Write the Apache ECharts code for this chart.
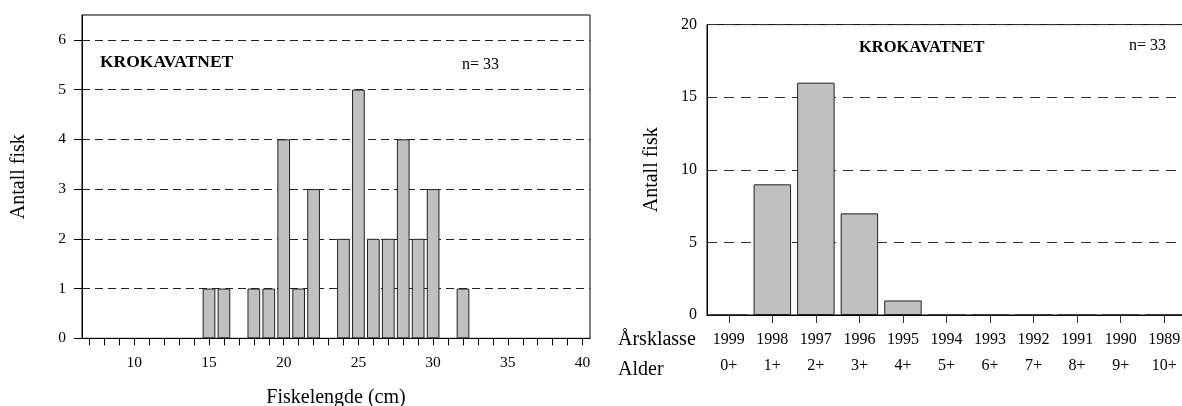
<!DOCTYPE html>
<html>
<head>
<meta charset="utf-8">
<script src="https://cdn.jsdelivr.net/npm/echarts@6/dist/echarts.min.js"></script>
<style>
html,body{margin:0;padding:0;background:#fff;}
#chart{width:1182px;height:406px;}
</style>
</head>
<body>
<div id="chart"></div>
<script>
// ---- Left chart: length distribution ----
const lengthAxisMin = 7;
const lengthAxisMax = 40;
const fishLengths = [15, 16, 18, 19, 20, 21, 22, 24, 25, 26, 27, 28, 29, 30, 32];
const fishCounts  = [1, 1, 1, 1, 4, 1, 3, 2, 5, 2, 2, 4, 2, 3, 1];
const lengthYTicks = [0, 1, 2, 3, 4, 5, 6];

// ---- Right chart: year classes / age ----
const yearClasses = ['1999', '1998', '1997', '1996', '1995', '1994', '1993', '1992', '1991', '1990', '1989'];
const ages        = ['0+', '1+', '2+', '3+', '4+', '5+', '6+', '7+', '8+', '9+', '10+'];
const ageCounts   = [0, 9, 16, 7, 1, 0, 0, 0, 0, 0, 0];

const lakeName = 'KROKAVATNET';
const nLabel = 'n= 33';

const lengthCategories = [];
for (let l = lengthAxisMin; l <= lengthAxisMax; l++) lengthCategories.push(String(l));
const lengthData = fishLengths.map((l, i) => [String(l), fishCounts[i]]);

const SERIF = '"Liberation Serif", "Times New Roman", serif';

const chart = echarts.init(document.getElementById('chart'), null, {renderer: 'canvas'});
const option = {
  backgroundColor: '#fff',
  animation: false,
  textStyle: {fontFamily: SERIF, color: '#000'},
  grid: [
    {left: 82, top: 15, width: 508, height: 323.3, show: true, borderColor: '#000', borderWidth: 1, backgroundColor: 'transparent', containLabel: false, outerBoundsMode: 'none'},
    {left: 707, top: 24.6, width: 479, height: 290.4, show: true, borderColor: '#000', borderWidth: 1, backgroundColor: 'transparent', containLabel: false, outerBoundsMode: 'none'}
  ],
  xAxis: [
    {
      gridIndex: 0, type: 'category', data: lengthCategories, boundaryGap: true,
      name: 'Fiskelengde (cm)', nameLocation: 'middle', nameGap: 49,
      nameTextStyle: {fontFamily: SERIF, fontSize: 20, color: '#000'},
      axisLine: {show: true, lineStyle: {color: '#000', width: 1}},
      axisTick: {show: true, alignWithLabel: true, interval: 0, length: 7, lineStyle: {color: '#000'}},
      axisLabel: {
        interval: function (idx, val) { return Number(val) % 5 === 0; },
        fontFamily: SERIF, fontSize: 15.5, color: '#000', margin: 17
      },
      splitLine: {show: false}
    },
    {
      gridIndex: 1, type: 'category', data: yearClasses, boundaryGap: true,
      axisLine: {show: true, lineStyle: {color: '#000', width: 1}},
      axisTick: {show: true, alignWithLabel: true, interval: 0, length: 8, lineStyle: {color: '#333'}},
      axisLabel: {
        interval: 0, margin: 12,
        formatter: function (val, idx) { return val + '\n' + ages[idx]; },
        fontFamily: SERIF, fontSize: 16, lineHeight: 26, color: '#000'
      },
      splitLine: {show: false}
    }
  ],
  yAxis: [
    {
      gridIndex: 0, type: 'value', min: 0, max: 6.5, interval: 1,
      name: 'Antall fisk', nameLocation: 'middle', nameGap: 53, nameRotate: 90,
      nameTextStyle: {fontFamily: SERIF, fontSize: 20, color: '#000'},
      axisLine: {show: true, lineStyle: {color: '#000', width: 1}},
      axisTick: {show: true, length: 8, customValues: lengthYTicks, lineStyle: {color: '#000'}},
      axisLabel: {
        customValues: lengthYTicks,
        formatter: function (v) { return Number.isInteger(v) ? String(v) : ''; },
        fontFamily: SERIF, fontSize: 15.5, color: '#000', margin: 16, padding: [4, 0, 0, 0]
      },
      splitLine: {show: true, lineStyle: {type: [8, 5], color: '#222', width: 1}}
    },
    {
      gridIndex: 1, type: 'value', min: 0, max: 20, interval: 5,
      name: 'Antall fisk', nameLocation: 'middle', nameGap: 45, nameRotate: 90,
      nameTextStyle: {fontFamily: SERIF, fontSize: 20, color: '#000'},
      axisLine: {show: true, lineStyle: {color: '#000', width: 1}},
      axisTick: {show: false},
      axisLabel: {fontFamily: SERIF, fontSize: 16, color: '#000', margin: 10, padding: [6, 0, 0, 0]},
      splitLine: {show: true, lineStyle: {type: [10, 7], color: '#333', width: 1}}
    }
  ],
  series: [
    {
      type: 'bar', xAxisIndex: 0, yAxisIndex: 0, data: lengthData,
      barCategoryGap: '15%',
      itemStyle: {color: '#c0c0c0', borderColor: '#222', borderWidth: 1},
      emphasis: {disabled: true}
    },
    {
      type: 'bar', xAxisIndex: 1, yAxisIndex: 1, data: ageCounts,
      barCategoryGap: '14%',
      itemStyle: {color: '#c0c0c0', borderColor: '#222', borderWidth: 1},
      emphasis: {disabled: true}
    }
  ],
  graphic: [
    {type: 'text', x: 100, y: 62, style: {text: lakeName, font: 'bold 17.5px ' + SERIF, fill: '#000', align: 'left', verticalAlign: 'middle'}},
    {type: 'text', x: 462, y: 65, style: {text: nLabel, font: '16px ' + SERIF, fill: '#000', align: 'left', verticalAlign: 'middle'}},
    {type: 'text', x: 859, y: 47.5, style: {text: lakeName, font: 'bold 16.5px ' + SERIF, fill: '#000', align: 'left', verticalAlign: 'middle'}},
    {type: 'text', x: 1129, y: 45.5, style: {text: nLabel, font: '16px ' + SERIF, fill: '#000', align: 'left', verticalAlign: 'middle'}},
    {type: 'text', x: 618, y: 340, style: {text: 'Årsklasse', font: '20px ' + SERIF, fill: '#000', align: 'left', verticalAlign: 'middle'}},
    {type: 'text', x: 618, y: 370, style: {text: 'Alder', font: '20px ' + SERIF, fill: '#000', align: 'left', verticalAlign: 'middle'}}
  ]
};
chart.setOption(option);
</script>
</body>
</html>
